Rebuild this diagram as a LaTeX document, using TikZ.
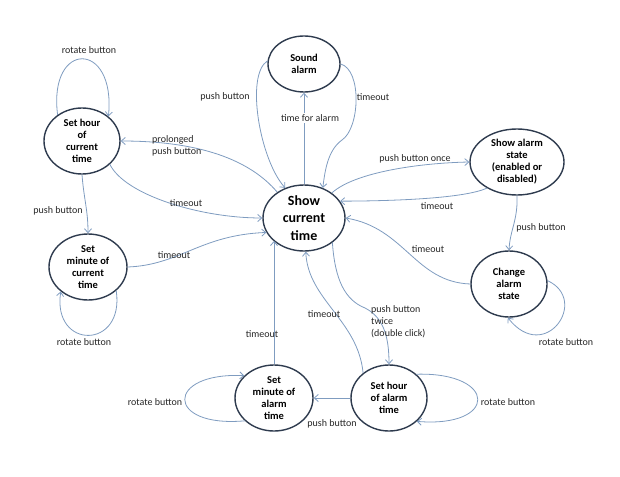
\documentclass[tikz,border=0pt]{standalone}
\usepackage{fontspec}
\setmainfont{Carlito}
\usetikzlibrary{shapes.geometric,arrows.meta}
\definecolor{edgeblue}{HTML}{7F9CC0}
\definecolor{rimgrey}{HTML}{2E3B4E}
\tikzset{state/.style={ellipse, draw=rimgrey, line width=1.4pt, inner sep=0pt, align=center,
           font=\fontsize{10.5}{12}\selectfont\bfseries},
         edge/.style={edgeblue, line width=0.8pt, -{Straight Barb[length=4pt,width=7pt]}},
         lbl/.style={inner sep=1pt, font=\fontsize{10}{12}\selectfont, text=black!85}}

\begin{document}
\begin{tikzpicture}[x=1pt,y=-1pt]
   \useasboundingbox (0,0) rectangle (620,476);
   % states
   \node[state, minimum width=82pt, minimum height=66pt, font=\fontsize{14}{17.5}\selectfont\bfseries]
        (show) at (304,218) {Show\\current\\time};
   \node[state, minimum width=72pt, minimum height=56pt] (sound) at (304,64) {Sound\\alarm};
   \node[state, minimum width=76pt, minimum height=66pt] (hourcur) at (82,141) {Set hour\\of\\current\\time};
   \node[state, minimum width=78pt, minimum height=66pt] (mincur) at (88,267) {Set\\minute of\\current\\time};
   \node[state, minimum width=94pt, minimum height=66pt] (alstate) at (517,162) {Show alarm\\state\\(enabled or\\disabled)};
   \node[state, minimum width=76pt, minimum height=66pt] (change) at (509,284) {Change\\alarm\\state};
   \node[state, minimum width=76pt, minimum height=66pt] (alhour) at (389,398) {Set hour\\of alarm\\time};
   \node[state, minimum width=78pt, minimum height=66pt] (almin) at (274,398) {Set\\minute of\\alarm\\time};

   % current time setting
   \draw[edge] (hourcur.133) .. controls (48,40) and (116,40) .. (hourcur.43);
   \draw[edge] (hourcur.south) .. controls (84,200) and (88,210) .. (mincur.north);
   \draw[edge] (show.136) .. controls (250,160) and (200,141) .. (hourcur.east);
   \draw[edge] (hourcur.-40) .. controls (125,195) and (200,218) .. (show.west);
   \draw[edge] (mincur.east) .. controls (180,265) and (200,235) .. (show.201);
   \draw[edge] (mincur.-40) .. controls (125,350) and (52,350) .. (mincur.-138);

   % alarm sounding
   \draw[edge] (sound.175) .. controls (245,75) and (260,160) .. (show.122);
   \draw[edge] (show.north) -- (sound.south);
   \draw[edge] (sound.east) .. controls (362,70) and (360,128) .. (342,140)
                            .. controls (328,150) and (325,170) .. (show.58);

   % alarm state
   \draw[edge] (show.42) .. controls (355,172) and (420,163) .. (alstate.west);
   \draw[edge] (alstate.221) .. controls (465,198) and (400,201) .. (show.25);
   \draw[edge] (alstate.south) .. controls (518,220) and (510,230) .. (change.north);
   \draw[edge] (change.west) .. controls (415,282) and (405,228) .. (show.east);
   \draw[edge] (change.5) .. controls (590,300) and (545,365) .. (change.-92);

   % alarm time setting
   \draw[edge] (show.-41) .. controls (335,280) and (345,300) .. (365,308)
                          .. controls (385,318) and (389,340) .. (alhour.north);
   \draw[edge] (alhour.136) .. controls (358,320) and (308,300) .. (show.-87);
   \draw[edge] (almin) -- (almin |- show.217.5);
   \draw[edge] (alhour.west) -- (almin.east);
   \draw[edge] (almin.218) .. controls (165,428) and (165,372) .. (almin.143);
   \draw[edge] (alhour.41) .. controls (498,372) and (498,428) .. (alhour.-40);

   % labels
   \node[lbl] (l1)  at (89,50)   {rotate button};
   \node[lbl] (l2)  at (58,211)  {push button};
   \node[lbl, align=left, anchor=west] (l3) at (151,146) {prolonged\\push button};
   \node[lbl] (l4)  at (186,203) {timeout};
   \node[lbl] (l5)  at (174,255) {timeout};
   \node[lbl] (l6)  at (84,342)  {rotate button};
   \node[lbl] (l7)  at (225,97)  {push button};
   \node[lbl, fill=white] (l8) at (310,118) {time for alarm};
   \node[lbl] (l9)  at (373,97)  {timeout};
   \node[lbl] (l10) at (415,159) {push button once};
   \node[lbl] (l11) at (437,206) {timeout};
   \node[lbl] (l12) at (541,228) {push button};
   \node[lbl] (l13) at (428,249) {timeout};
   \node[lbl] (l14) at (566,342) {rotate button};
   \node[lbl, align=left, anchor=west] (l15) at (370,322) {push button\\twice\\(double click)};
   \node[lbl] (l16) at (324,314) {timeout};
   \node[lbl] (l17) at (262,334) {timeout};
   \node[lbl] (l18) at (332,424) {push button};
   \node[lbl] (l19) at (155,402) {rotate button};
   \node[lbl] (l20) at (508,402) {rotate button};
\end{tikzpicture}
\end{document}
